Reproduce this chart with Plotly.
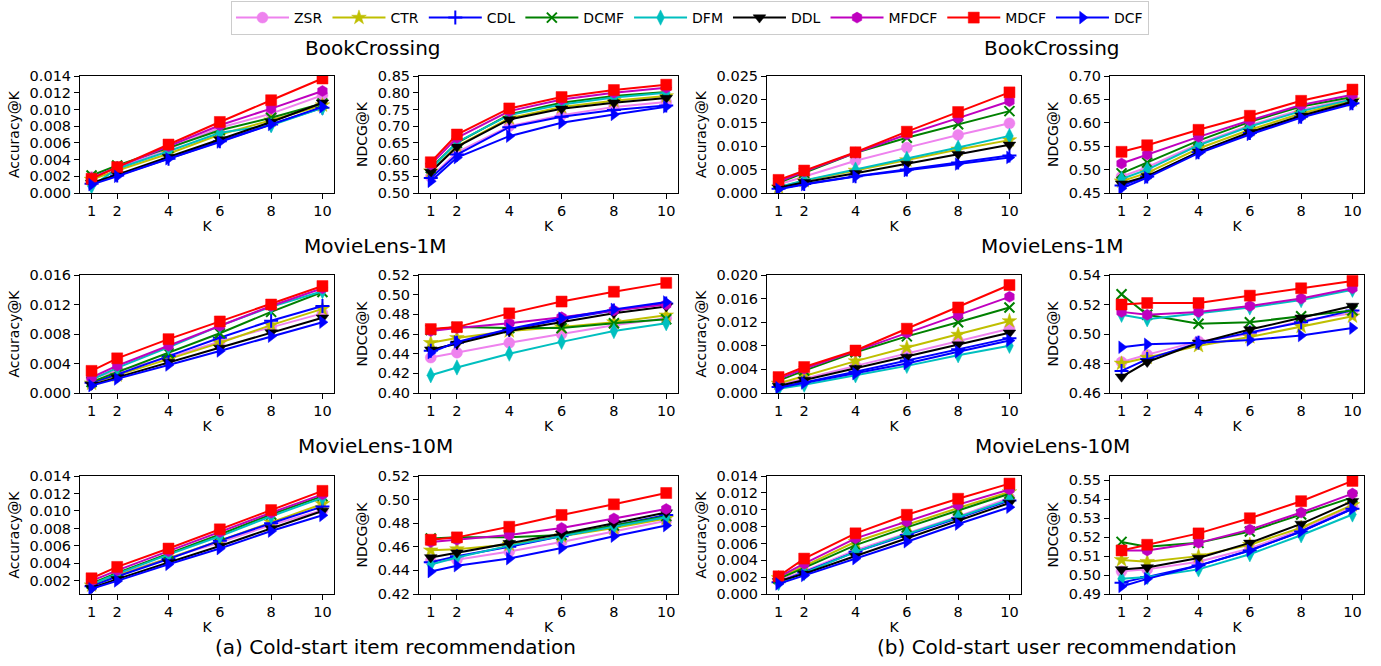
import numpy as np
import plotly.graph_objects as go

K = [1, 2, 4, 6, 8, 10]
methods = ["ZSR", "CTR", "CDL", "DCMF", "DFM", "DDL", "MFDCF", "MDCF", "DCF"]
colors = ["#EE82EE", "#BFBF00", "#0000FF", "#008000", "#00BFBF", "#000000", "#BF00BF", "#FF0000", "#0000FF"]
symbols = ["circle", "star", "cross-thin", "x-thin", "diamond-tall", "triangle-down", "hexagon", "square", "triangle-right"]

# ---- (a) Cold-start item recommendation ----
bx_item_acc = {
    "ZSR":   [0.0019, 0.0030, 0.0053, 0.0078, 0.0095, 0.0117],
    "CTR":   [0.0016, 0.0027, 0.0047, 0.0070, 0.0087, 0.0105],
    "CDL":   [0.0011, 0.0021, 0.0041, 0.0062, 0.0082, 0.0102],
    "DCMF":  [0.0021, 0.0033, 0.0054, 0.0075, 0.0090, 0.0107],
    "DFM":   [0.0008, 0.0029, 0.0050, 0.0072, 0.0081, 0.0102],
    "DDL":   [0.0012, 0.0022, 0.0043, 0.0064, 0.0085, 0.0108],
    "MFDCF": [0.0018, 0.0031, 0.0056, 0.0081, 0.0101, 0.0122],
    "MDCF":  [0.0017, 0.0031, 0.0058, 0.0085, 0.0111, 0.0137],
    "DCF":   [0.0010, 0.0020, 0.0041, 0.0061, 0.0082, 0.0103],
}
bx_item_ndcg = {
    "ZSR":   [0.548, 0.622, 0.700, 0.733, 0.757, 0.772],
    "CTR":   [0.565, 0.640, 0.724, 0.757, 0.776, 0.790],
    "CDL":   [0.545, 0.615, 0.697, 0.728, 0.748, 0.762],
    "DCMF":  [0.575, 0.650, 0.735, 0.770, 0.790, 0.802],
    "DFM":   [0.572, 0.652, 0.733, 0.765, 0.786, 0.800],
    "DDL":   [0.563, 0.638, 0.720, 0.752, 0.770, 0.784],
    "MFDCF": [0.585, 0.665, 0.745, 0.780, 0.800, 0.815],
    "MDCF":  [0.592, 0.675, 0.753, 0.787, 0.808, 0.824],
    "DCF":   [0.535, 0.606, 0.670, 0.710, 0.735, 0.758],
}
ml1m_item_acc = {
    "ZSR":   [0.0020, 0.0030, 0.0048, 0.0070, 0.0089, 0.0108],
    "CTR":   [0.0013, 0.0024, 0.0045, 0.0068, 0.0092, 0.0114],
    "CDL":   [0.0014, 0.0025, 0.0050, 0.0075, 0.0098, 0.0118],
    "DCMF":  [0.0015, 0.0028, 0.0054, 0.0081, 0.0110, 0.0137],
    "DFM":   [0.0018, 0.0034, 0.0062, 0.0091, 0.0117, 0.0138],
    "DDL":   [0.0011, 0.0021, 0.0042, 0.0061, 0.0082, 0.0102],
    "MFDCF": [0.0021, 0.0037, 0.0064, 0.0091, 0.0118, 0.0142],
    "MDCF":  [0.0030, 0.0047, 0.0073, 0.0097, 0.0120, 0.0145],
    "DCF":   [0.0010, 0.0019, 0.0038, 0.0057, 0.0077, 0.0096],
}
ml1m_item_ndcg = {
    "ZSR":   [0.436, 0.441, 0.451, 0.460, 0.469, 0.476],
    "CTR":   [0.451, 0.456, 0.463, 0.467, 0.472, 0.479],
    "CDL":   [0.443, 0.451, 0.464, 0.475, 0.484, 0.491],
    "DCMF":  [0.464, 0.467, 0.466, 0.466, 0.471, 0.475],
    "DFM":   [0.418, 0.426, 0.440, 0.452, 0.463, 0.471],
    "DDL":   [0.444, 0.450, 0.463, 0.472, 0.481, 0.488],
    "MFDCF": [0.463, 0.466, 0.471, 0.477, 0.484, 0.490],
    "MDCF":  [0.465, 0.467, 0.481, 0.493, 0.503, 0.512],
    "DCF":   [0.441, 0.452, 0.465, 0.476, 0.485, 0.4925],
}
ml10m_item_acc = {
    "ZSR":   [0.0016, 0.0027, 0.0046, 0.0064, 0.0084, 0.0101],
    "CTR":   [0.0015, 0.0026, 0.0046, 0.0066, 0.0087, 0.0108],
    "CDL":   [0.0014, 0.0025, 0.0045, 0.0066, 0.0086, 0.0105],
    "DCMF":  [0.0017, 0.0029, 0.0051, 0.0073, 0.0096, 0.0117],
    "DFM":   [0.0016, 0.0028, 0.0050, 0.0071, 0.0094, 0.0115],
    "DDL":   [0.0012, 0.0022, 0.0041, 0.0060, 0.0080, 0.0100],
    "MFDCF": [0.0020, 0.0032, 0.0054, 0.0076, 0.0098, 0.0119],
    "MDCF":  [0.0023, 0.0036, 0.0057, 0.0079, 0.0101, 0.0123],
    "DCF":   [0.0011, 0.0020, 0.0039, 0.0057, 0.0077, 0.0095],
}
ml10m_item_ndcg = {
    "ZSR":   [0.448, 0.449, 0.456, 0.464, 0.473, 0.482],
    "CTR":   [0.457, 0.458, 0.462, 0.469, 0.476, 0.484],
    "CDL":   [0.447, 0.452, 0.460, 0.469, 0.478, 0.487],
    "DCMF":  [0.467, 0.468, 0.468, 0.470, 0.478, 0.486],
    "DFM":   [0.445, 0.451, 0.461, 0.469, 0.477, 0.485],
    "DDL":   [0.451, 0.455, 0.463, 0.471, 0.480, 0.489],
    "MFDCF": [0.464, 0.466, 0.470, 0.476, 0.484, 0.492],
    "MDCF":  [0.466, 0.468, 0.477, 0.487, 0.496, 0.5056],
    "DCF":   [0.439, 0.444, 0.450, 0.459, 0.469, 0.478],
}

# ---- (b) Cold-start user recommendation ----
bx_user_acc = {
    "ZSR":   [0.0018, 0.0035, 0.0069, 0.0097, 0.0124, 0.0149],
    "CTR":   [0.0012, 0.0026, 0.0048, 0.0070, 0.0093, 0.0113],
    "CDL":   [0.0009, 0.0019, 0.0036, 0.0050, 0.0065, 0.0080],
    "DCMF":  [0.0022, 0.0043, 0.0086, 0.0118, 0.0147, 0.0175],
    "DFM":   [0.0013, 0.0027, 0.0050, 0.0073, 0.0097, 0.0122],
    "DDL":   [0.0011, 0.0023, 0.0042, 0.0062, 0.0083, 0.0103],
    "MFDCF": [0.0024, 0.0046, 0.0086, 0.0125, 0.0160, 0.0196],
    "MDCF":  [0.0028, 0.0048, 0.0087, 0.0131, 0.0173, 0.0215],
    "DCF":   [0.0008, 0.0018, 0.0035, 0.0048, 0.0062, 0.0076],
}
bx_user_ndcg = {
    "ZSR":   [0.485, 0.505, 0.555, 0.595, 0.628, 0.652],
    "CTR":   [0.475, 0.493, 0.545, 0.585, 0.620, 0.648],
    "CDL":   [0.466, 0.485, 0.537, 0.578, 0.613, 0.642],
    "DCMF":  [0.492, 0.515, 0.562, 0.602, 0.635, 0.655],
    "DFM":   [0.480, 0.500, 0.552, 0.592, 0.625, 0.650],
    "DDL":   [0.470, 0.486, 0.538, 0.580, 0.615, 0.645],
    "MFDCF": [0.513, 0.532, 0.570, 0.605, 0.638, 0.660],
    "MDCF":  [0.538, 0.552, 0.585, 0.615, 0.647, 0.671],
    "DCF":   [0.460, 0.483, 0.535, 0.575, 0.611, 0.640],
}
ml1m_user_acc = {
    "ZSR":   [0.0014, 0.0024, 0.0046, 0.0067, 0.0088, 0.0109],
    "CTR":   [0.0016, 0.0029, 0.0054, 0.0077, 0.0099, 0.0122],
    "CDL":   [0.0010, 0.0018, 0.0036, 0.0055, 0.0074, 0.0093],
    "DCMF":  [0.0021, 0.0038, 0.0069, 0.0096, 0.0120, 0.0145],
    "DFM":   [0.0007, 0.0014, 0.0030, 0.0046, 0.0064, 0.0080],
    "DDL":   [0.0012, 0.0022, 0.0042, 0.0061, 0.0082, 0.0102],
    "MFDCF": [0.0024, 0.0041, 0.0071, 0.0102, 0.0132, 0.0163],
    "MDCF":  [0.0027, 0.0044, 0.0072, 0.0109, 0.0145, 0.0183],
    "DCF":   [0.0009, 0.0017, 0.0033, 0.0050, 0.0070, 0.0089],
}
ml1m_user_ndcg = {
    "ZSR":   [0.481, 0.486, 0.495, 0.500, 0.509, 0.514],
    "CTR":   [0.480, 0.484, 0.492, 0.498, 0.505, 0.512],
    "CDL":   [0.475, 0.483, 0.494, 0.501, 0.508, 0.516],
    "DCMF":  [0.527, 0.513, 0.507, 0.508, 0.512, 0.516],
    "DFM":   [0.513, 0.510, 0.514, 0.518, 0.523, 0.530],
    "DDL":   [0.471, 0.481, 0.494, 0.503, 0.511, 0.519],
    "MFDCF": [0.515, 0.513, 0.515, 0.519, 0.524, 0.531],
    "MDCF":  [0.520, 0.521, 0.521, 0.526, 0.531, 0.536],
    "DCF":   [0.491, 0.493, 0.494, 0.496, 0.499, 0.504],
}
ml10m_user_acc = {
    "ZSR":   [0.0016, 0.0027, 0.0052, 0.0072, 0.0092, 0.0114],
    "CTR":   [0.0019, 0.0033, 0.0062, 0.0082, 0.0102, 0.0121],
    "CDL":   [0.0014, 0.0026, 0.0050, 0.0070, 0.0090, 0.0111],
    "DCMF":  [0.0018, 0.0031, 0.0058, 0.0079, 0.0099, 0.0119],
    "DFM":   [0.0013, 0.0025, 0.0050, 0.0071, 0.0091, 0.0112],
    "DDL":   [0.0015, 0.0024, 0.0045, 0.0066, 0.0087, 0.0108],
    "MFDCF": [0.0020, 0.0036, 0.0066, 0.0086, 0.0106, 0.0124],
    "MDCF":  [0.0021, 0.0042, 0.0072, 0.0094, 0.0113, 0.0131],
    "DCF":   [0.0012, 0.0022, 0.0042, 0.0062, 0.0083, 0.0103],
}
ml10m_user_ndcg = {
    "ZSR":   [0.502, 0.503, 0.507, 0.514, 0.524, 0.536],
    "CTR":   [0.508, 0.507, 0.510, 0.516, 0.525, 0.537],
    "CDL":   [0.496, 0.499, 0.505, 0.513, 0.523, 0.535],
    "DCMF":  [0.5175, 0.515, 0.517, 0.523, 0.532, 0.541],
    "DFM":   [0.498, 0.499, 0.503, 0.511, 0.521, 0.532],
    "DDL":   [0.503, 0.504, 0.509, 0.517, 0.527, 0.539],
    "MFDCF": [0.513, 0.513, 0.517, 0.524, 0.533, 0.543],
    "MDCF":  [0.513, 0.516, 0.522, 0.530, 0.539, 0.5497],
    "DCF":   [0.494, 0.498, 0.505, 0.513, 0.523, 0.535],
}

W, H = 1381, 666
col_px = [(80, 334), (419, 678), (767, 1021), (1110, 1364)]
row_px = [(76, 193), (275, 393), (476, 594)]

# (data, ymin, ymax, first tick, dtick, fmt, ytitle, row, col)
panels = [
    (bx_item_acc, 0.0, 0.014, 0.0, 0.002, ".3f", "Accuracy@K", 0, 0),
    (bx_item_ndcg, 0.50, 0.85, 0.50, 0.05, ".2f", "NDCG@K", 0, 1),
    (bx_user_acc, 0.0, 0.025, 0.0, 0.005, ".3f", "Accuracy@K", 0, 2),
    (bx_user_ndcg, 0.45, 0.70, 0.45, 0.05, ".2f", "NDCG@K", 0, 3),
    (ml1m_item_acc, 0.0, 0.016, 0.0, 0.004, ".3f", "Accuracy@K", 1, 0),
    (ml1m_item_ndcg, 0.40, 0.52, 0.40, 0.02, ".2f", "NDCG@K", 1, 1),
    (ml1m_user_acc, 0.0, 0.020, 0.0, 0.004, ".3f", "Accuracy@K", 1, 2),
    (ml1m_user_ndcg, 0.46, 0.54, 0.46, 0.02, ".2f", "NDCG@K", 1, 3),
    (ml10m_item_acc, 0.0005, 0.014, 0.002, 0.002, ".3f", "Accuracy@K", 2, 0),
    (ml10m_item_ndcg, 0.42, 0.52, 0.42, 0.02, ".2f", "NDCG@K", 2, 1),
    (ml10m_user_acc, 0.0, 0.014, 0.0, 0.002, ".3f", "Accuracy@K", 2, 2),
    (ml10m_user_ndcg, 0.49, 0.5523, 0.49, 0.01, ".2f", "NDCG@K", 2, 3),
]

FONT = "DejaVu Sans"
fig = go.Figure()
layout = {}
for i, (data, ymin, ymax, t0, dt, fmt, ytitle, r, c) in enumerate(panels):
    n = i + 1
    xs = "x" if n == 1 else f"x{n}"
    ys = "y" if n == 1 else f"y{n}"
    for m, col, sym in zip(methods, colors, symbols):
        thin = sym in ("cross-thin", "x-thin")
        fig.add_trace(go.Scatter(
            x=K, y=data[m], mode="lines+markers", name=m,
            xaxis=xs, yaxis=ys, showlegend=(n == 1), legendgroup=m,
            line=dict(color=col, width=2),
            marker=dict(symbol=sym, size=11 if not thin else 10, color=col,
                        line=dict(color=col, width=2 if thin else 0.5)),
        ))
    x0, x1 = col_px[c]
    y0, y1 = row_px[r]
    nticks = int(round((ymax - t0) / dt + 1e-9)) + 1
    tv = [round(t0 + k * dt, 6) for k in range(nticks) if t0 + k * dt <= ymax + 1e-9]
    ax_common = dict(showline=True, linecolor="black", linewidth=1, mirror=True,
                     ticks="outside", ticklen=5, tickcolor="black", showgrid=False,
                     zeroline=False, automargin=False,
                     tickfont=dict(family=FONT, size=14.5, color="black"))
    layout["xaxis" if n == 1 else f"xaxis{n}"] = dict(
        domain=[x0 / W, x1 / W], anchor=ys, range=[0.55, 10.45],
        tickvals=K, title=dict(text="K", font=dict(family=FONT, size=14, color="black"), standoff=2),
        **ax_common)
    layout["yaxis" if n == 1 else f"yaxis{n}"] = dict(
        domain=[1 - y1 / H, 1 - y0 / H], anchor=xs, range=[ymin, ymax],
        tickvals=tv, tickformat=fmt,
        title=dict(text=ytitle, font=dict(family=FONT, size=14, color="black"), standoff=6),
        **ax_common)

annotations = []
for txt, xc, yc in [("BookCrossing", 373, 48), ("BookCrossing", 1052, 48),
                    ("MovieLens-1M", 375, 246), ("MovieLens-1M", 1052, 246),
                    ("MovieLens-10M", 375, 446), ("MovieLens-10M", 1052, 446),
                    ("(a) Cold-start item recommendation", 395, 647),
                    ("(b) Cold-start user recommendation", 1057, 647)]:
    annotations.append(dict(text=txt, x=xc / W, y=1 - yc / H, xref="paper", yref="paper",
                            showarrow=False, xanchor="center", yanchor="middle",
                            font=dict(family=FONT, size=20, color="black")))

fig.update_layout(
    width=W, height=H, margin=dict(l=0, r=0, t=0, b=0, autoexpand=False),
    paper_bgcolor="white", plot_bgcolor="white",
    font=dict(family=FONT, size=13, color="black"),
    showlegend=True,
    legend=dict(orientation="h", x=690 / W, xanchor="center", y=1 - 1 / H, yanchor="top",
                bordercolor="#cccccc", borderwidth=1, font=dict(family=FONT, size=14, color="black"),
                itemwidth=53, tracegroupgap=0),
    annotations=annotations,
    **layout,
)
fig.write_html("out.html", config={"displayModeBar": False},
               post_script="document.body.style.margin='0';document.body.style.overflow='hidden';")
